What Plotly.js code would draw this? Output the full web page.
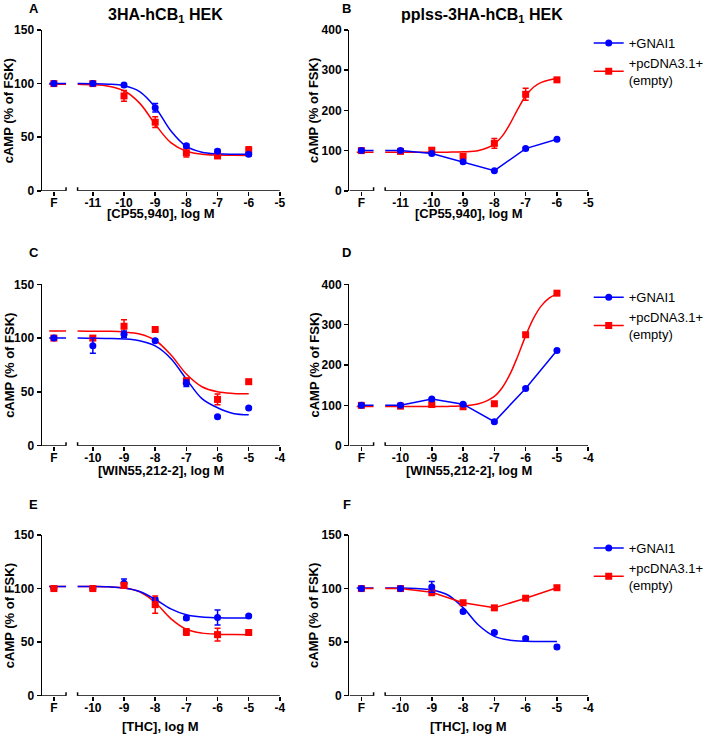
<!DOCTYPE html>
<html>
<head>
<meta charset="utf-8">
<script src="https://cdn.plot.ly/plotly-3.0.1.min.js"></script>
<style>html,body{margin:0;padding:0;background:#fff;}#chart{width:709px;height:736px;}</style>
</head>
<body>
<div id="chart"></div>
<script>
// ---------------- data ----------------
const seriesNames = ['+GNAI1', '+pcDNA3.1+<br>(empty)'];

// Panel A: 3HA-hCB1 HEK, CP55,940
const dosesA = ['F', -11, -10, -9, -8, -7, -6];
const gnaiA = [100, 100, 98.7, 77.5, 42, 37, 34];
const gnaiErrA = [0.8, 1, 1.5, 4, 1.5, 1.5, 1.5];
const emptyA = [100, 100, 88.5, 64, 35.5, 32.5, 38];
const emptyErrA = [0.8, 1, 5, 5, 4, 2, 3];
const fitXA = [-12.4, -11.5, -11, -10.5, -10, -9.5, -9, -8.5, -8, -7.5, -7, -6.5, -6];
const gnaiFitA = [100, 100, 99.9, 99.5, 98.0, 92.6, 78.0, 56.0, 41.4, 36.0, 34.5, 34.1, 34.0];
const emptyFitA = [99.5, 99.3, 99.0, 97.6, 93.3, 81.8, 62.1, 44.9, 36.9, 34.1, 33.3, 33.1, 33.0];

// Panel B: pplss-3HA-hCB1 HEK, CP55,940
const dosesB = ['F', -11, -10, -9, -8, -7, -6];
const gnaiB = [100, 100, 93, 72, 50, 105, 128];
const gnaiErrB = [2, 2, 3, 3, 2, 3, 3];
const emptyB = [100, 98, 101, 86, 118, 240, 276];
const emptyErrB = [2, 2, 6, 6, 12, 15, 4];
const fitXB = [-12.4, -11.5, -11, -10.5, -10, -9.5, -9, -8.5, -8, -7.75, -7.5, -7.25, -7, -6.75, -6.5, -6.25, -6];
const emptyFitB = [96, 96, 96, 96, 96, 96.2, 96.9, 100.4, 116.3, 136, 166.6, 203.3, 235.7, 257.6, 269.8, 275.8, 278.6];

// Panel C: 3HA-hCB1 HEK, WIN55,212-2
const dosesC = ['F', -10, -9, -8, -7, -6, -5];
const gnaiC = [100, 93, 103.5, 97.6, 58, 27, 35];
const gnaiErrC = [0.8, 7, 3, 1, 3, 1, 1];
const emptyC = [100, 100, 111, 108, 60, 43, 59.5];
const emptyErrC = [0.8, 2, 6, 1, 3, 5, 1];
const fitXC = [-11.4, -10.5, -10, -9.5, -9, -8.5, -8, -7.5, -7, -6.5, -6, -5.5, -5];
const gnaiFitC = [100, 100, 99.9, 99.7, 99.2, 97.5, 92.7, 81.1, 61.9, 43.8, 35.3, 30.0, 28.8];
const emptyFitC = [106.5, 106.5, 106.4, 106.3, 105.7, 103.8, 98.0, 84.5, 66.6, 54.8, 50.1, 48.6, 48.2];

// Panel D: pplss-3HA-hCB1 HEK, WIN55,212-2
const dosesD = ['F', -10, -9, -8, -7, -6, -5];
const gnaiD = [100, 100, 115.5, 103, 59.5, 142, 236];
const gnaiErrD = [2, 2, 3, 2, 3, 3, 3];
const emptyD = [100, 98, 102, 96.5, 104, 275, 378];
const emptyErrD = [2, 2, 3, 2, 3, 4, 4];
const fitXD = [-11.4, -10.5, -10, -9.5, -9, -8.5, -8, -7.5, -7, -6.75, -6.5, -6.25, -6, -5.75, -5.5, -5.25, -5];
const emptyFitD = [97, 97, 97, 97, 97.1, 97.4, 98.7, 103.8, 122.3, 143.6, 177.2, 222.4, 272.2, 315.6, 346.6, 365.7, 376.4];

// Panel E: 3HA-hCB1 HEK, THC
const dosesE = ['F', -10, -9, -8, -7, -6, -5];
const gnaiE = [100, 100, 105, 89.5, 72.5, 73, 74.5];
const gnaiErrE = [0.8, 1, 4, 2, 1.5, 7, 1];
const emptyE = [100, 100, 103, 85, 59.5, 57, 59];
const emptyErrE = [0.8, 1, 2, 8, 3, 6, 1];
const fitXE = [-11.4, -10.5, -10, -9.5, -9, -8.5, -8, -7.5, -7, -6.5, -6, -5.5, -5];
const gnaiFitE = [102, 102, 101.9, 101.6, 100.5, 97.2, 90.0, 81.1, 75.6, 73.4, 72.8, 72.6, 72.5];
const emptyFitE = [102, 102, 101.9, 101.6, 100.6, 97.0, 87.0, 72.0, 62.0, 58.4, 57.4, 57.1, 57.0];

// Panel F: pplss-3HA-hCB1 HEK, THC
const dosesF = ['F', -10, -9, -8, -7, -6, -5];
const gnaiF = [100, 100, 101.5, 78.5, 59, 53.5, 45.5];
const gnaiErrF = [0.8, 1, 5, 1.5, 1.5, 1.5, 1.5];
const emptyF = [100, 100, 96.5, 86.8, 82, 91, 100.8];
const emptyErrF = [0.8, 1, 3, 1.5, 1.5, 1.5, 1.5];
const fitXF = [-11.4, -10.5, -10, -9.5, -9, -8.5, -8, -7.5, -7, -6.5, -6, -5.5, -5];
const gnaiFitF = [100.5, 100.5, 100.5, 100.0, 98.7, 94.2, 82.2, 65.7, 55.4, 51.8, 50.8, 50.6, 50.5];

const columnTitles = ['3HA-hCB<sub>1</sub> HEK', 'pplss-3HA-hCB<sub>1</sub> HEK'];
const panelLetters = ['A', 'B', 'C', 'D', 'E', 'F'];
const xLabels = ['[CP55,940], log M', '[CP55,940], log M', '[WIN55,212-2], log M', '[WIN55,212-2], log M', '[THC], log M', '[THC], log M'];
const yLabel = 'cAMP (% of FSK)';

// ---------------- layout / styling ----------------
const W = 709, H = 736;
const FONT = 'Arial, "Liberation Sans", sans-serif';
const BLUE = '#0000ff', RED = '#ff0000';
const colPx = [[42.7, 284.3], [355, 597.5]];
const rowPx = [[30, 190.8], [284.3, 445.7], [535, 695.7]];
const xTitleY = [213.5, 470, 726];
const px = p => p / W;
const py = p => 1 - p / H;

const panels = [
  {doses: dosesA, g: gnaiA, ge: gnaiErrA, e: emptyA, ee: emptyErrA, fitX: fitXA, gFit: gnaiFitA, eFit: emptyFitA, ymax: 150, dy: 50, redTop: false},
  {doses: dosesB, g: gnaiB, ge: gnaiErrB, e: emptyB, ee: emptyErrB, fitX: fitXB, gFit: null, eFit: emptyFitB, ymax: 400, dy: 100, legend: 'legend'},
  {doses: dosesC, g: gnaiC, ge: gnaiErrC, e: emptyC, ee: emptyErrC, fitX: fitXC, gFit: gnaiFitC, eFit: emptyFitC, ymax: 150, dy: 50},
  {doses: dosesD, g: gnaiD, ge: gnaiErrD, e: emptyD, ee: emptyErrD, fitX: fitXD, gFit: null, eFit: emptyFitD, ymax: 400, dy: 100, legend: 'legend2'},
  {doses: dosesE, g: gnaiE, ge: gnaiErrE, e: emptyE, ee: emptyErrE, fitX: fitXE, gFit: gnaiFitE, eFit: emptyFitE, ymax: 150, dy: 50, redTop: true},
  {doses: dosesF, g: gnaiF, ge: gnaiErrF, e: emptyF, ee: emptyErrF, fitX: fitXF, gFit: gnaiFitF, eFit: null, ymax: 150, dy: 50, legend: 'legend3'}
];

const traces = [];
const layout = {
  width: W, height: H,
  margin: {l: 0, r: 0, t: 0, b: 0},
  paper_bgcolor: '#fff', plot_bgcolor: '#fff',
  font: {family: FONT, color: '#000'},
  showlegend: true,
  shapes: [], annotations: []
};

panels.forEach((p, i) => {
  const s = i === 0 ? '' : String(i + 1);
  const col = i % 2, row = Math.floor(i / 2);
  const first = p.doses[1], last = p.doses[p.doses.length - 1];
  const fPos = first - 1.25;
  const breakL = first - 0.86, breakR = first - 0.49;
  const r0 = first - 1.63, r1 = last + 1;
  const xs = p.doses.map(d => d === 'F' ? fPos : d);
  const xa = 'x' + s, ya = 'y' + s;

  const tickvals = [fPos], ticktext = ['F'];
  for (let v = first; v <= last + 1; v++) { tickvals.push(v); ticktext.push(String(v)); }

  layout['xaxis' + s] = {
    domain: [px(colPx[col][0]), px(colPx[col][1])], anchor: ya,
    range: [r0, r1], showline: false, showgrid: false, zeroline: false,
    tickmode: 'array', tickvals: tickvals, ticktext: ticktext,
    ticks: 'outside', ticklen: 4, tickwidth: 1.5, tickcolor: '#000', ticklabelstandoff: -3,
    tickfont: {family: FONT, size: 12, color: '#000', weight: 'bold'}
  };
  const yt = [];
  for (let v = 0; v <= p.ymax; v += p.dy) yt.push(v);
  layout['yaxis' + s] = {
    domain: [py(rowPx[row][1]), py(rowPx[row][0])], anchor: xa,
    range: [0, p.ymax], showline: true, linewidth: 1.5, linecolor: '#000',
    showgrid: false, zeroline: false, tickmode: 'array', tickvals: yt,
    ticks: 'outside', ticklen: 4, tickwidth: 1.5, tickcolor: '#000',
    tickfont: {family: FONT, size: 12, color: '#000', weight: 'bold'}
  };

  const lineStyle = c => ({color: c, width: 1.5, shape: 'spline', smoothing: 1});
  const mk = (sym, c) => ({symbol: sym, size: 7, color: c, line: {width: 0}});
  const err = (arr, c) => ({type: 'data', array: arr, visible: true, color: c, thickness: 1.5, width: 3});

  // fit curves
  if (p.eFit) traces.push({x: p.fitX, y: p.eFit, xaxis: xa, yaxis: ya, mode: 'lines', line: lineStyle(RED), showlegend: false, hoverinfo: 'skip'});
  if (p.gFit) traces.push({x: p.fitX, y: p.gFit, xaxis: xa, yaxis: ya, mode: 'lines', line: lineStyle(BLUE), showlegend: false, hoverinfo: 'skip'});

  const redTrace = {x: xs, y: p.e, xaxis: xa, yaxis: ya, mode: p.eFit ? 'markers' : 'lines+markers',
    line: {color: RED, width: 1.5}, marker: mk('square', RED), error_y: err(p.ee, RED), showlegend: false, cliponaxis: false};
  const blueTrace = {x: xs, y: p.g, xaxis: xa, yaxis: ya, mode: p.gFit ? 'markers' : 'lines+markers',
    line: {color: BLUE, width: 1.5}, marker: mk('circle', BLUE), error_y: err(p.ge, BLUE), showlegend: false, cliponaxis: false};
  if (p.redTop) { traces.push(blueTrace, redTrace); } else { traces.push(redTrace, blueTrace); }

  // legend entries (legend-only traces)
  if (p.legend) {
    traces.push({x: [null], y: [null], xaxis: xa, yaxis: ya, mode: 'lines+markers', name: seriesNames[0],
      line: {color: BLUE, width: 1.5}, marker: mk('circle', BLUE), legend: p.legend, showlegend: true});
    traces.push({x: [null], y: [null], xaxis: xa, yaxis: ya, mode: 'lines+markers', name: seriesNames[1],
      line: {color: RED, width: 1.5}, marker: mk('square', RED), legend: p.legend, showlegend: true});
    layout[p.legend] = {
      x: px(598), y: py(rowPx[row][0] - 2), xanchor: 'left', yanchor: 'top',
      font: {family: FONT, size: 13, color: '#000'}, bgcolor: 'rgba(0,0,0,0)',
      borderwidth: 0, tracegroupgap: 0, itemwidth: 30
    };
  }

  // broken x axis: mask + two line segments + break ticks
  const ax = {color: '#000', width: 1.5};
  layout.shapes.push({type: 'rect', xref: xa, yref: ya + ' domain', x0: breakL, x1: breakR, y0: 0, y1: 1,
    fillcolor: '#fff', line: {width: 0}, layer: 'above'});
  layout.shapes.push({type: 'line', xref: xa, yref: ya, x0: r0, x1: breakL, y0: 0, y1: 0, line: ax, layer: 'above'});
  layout.shapes.push({type: 'line', xref: xa, yref: ya, x0: breakR, x1: r1, y0: 0, y1: 0, line: ax, layer: 'above'});
  [breakL, breakR].forEach(b => layout.shapes.push({type: 'line', xref: xa, yref: ya, ysizemode: 'pixel', yanchor: 0,
    x0: b, x1: b, y0: -3.5, y1: 3.5, line: ax, layer: 'above'}));

  // texts
  const cx = (colPx[col][0] + colPx[col][1]) / 2;
  const cy = (rowPx[row][0] + rowPx[row][1]) / 2;
  layout.annotations.push({xref: 'paper', yref: 'paper', x: px(cx), y: py(xTitleY[row]), text: xLabels[i],
    showarrow: false, xanchor: 'center', yanchor: 'middle', font: {family: FONT, size: 13, color: '#000', weight: 'bold'}});
  layout.annotations.push({xref: 'paper', yref: 'paper', x: px(col === 0 ? 9 : 318.5), y: py(cy), text: yLabel, textangle: -90,
    showarrow: false, xanchor: 'center', yanchor: 'middle', font: {family: FONT, size: 13, color: '#000', weight: 'bold'}});
  const letterY = [8.7, 252, 504.5][row];
  layout.annotations.push({xref: 'paper', yref: 'paper', x: px(col === 0 ? 34.5 : 352), y: py(letterY), text: panelLetters[i],
    showarrow: false, xanchor: 'center', yanchor: 'middle', font: {family: FONT, size: 13, color: '#000', weight: 'bold'}});
});

layout.annotations.push({xref: 'paper', yref: 'paper', x: px(168), y: py(4), text: columnTitles[0],
  showarrow: false, xanchor: 'center', yanchor: 'top', font: {family: FONT, size: 16, color: '#000', weight: 'bold'}});
layout.annotations.push({xref: 'paper', yref: 'paper', x: px(490), y: py(4), text: columnTitles[1],
  showarrow: false, xanchor: 'center', yanchor: 'top', font: {family: FONT, size: 16, color: '#000', weight: 'bold'}});

Plotly.newPlot('chart', traces, layout, {staticPlot: true, displayModeBar: false});
</script>
</body>
</html>
